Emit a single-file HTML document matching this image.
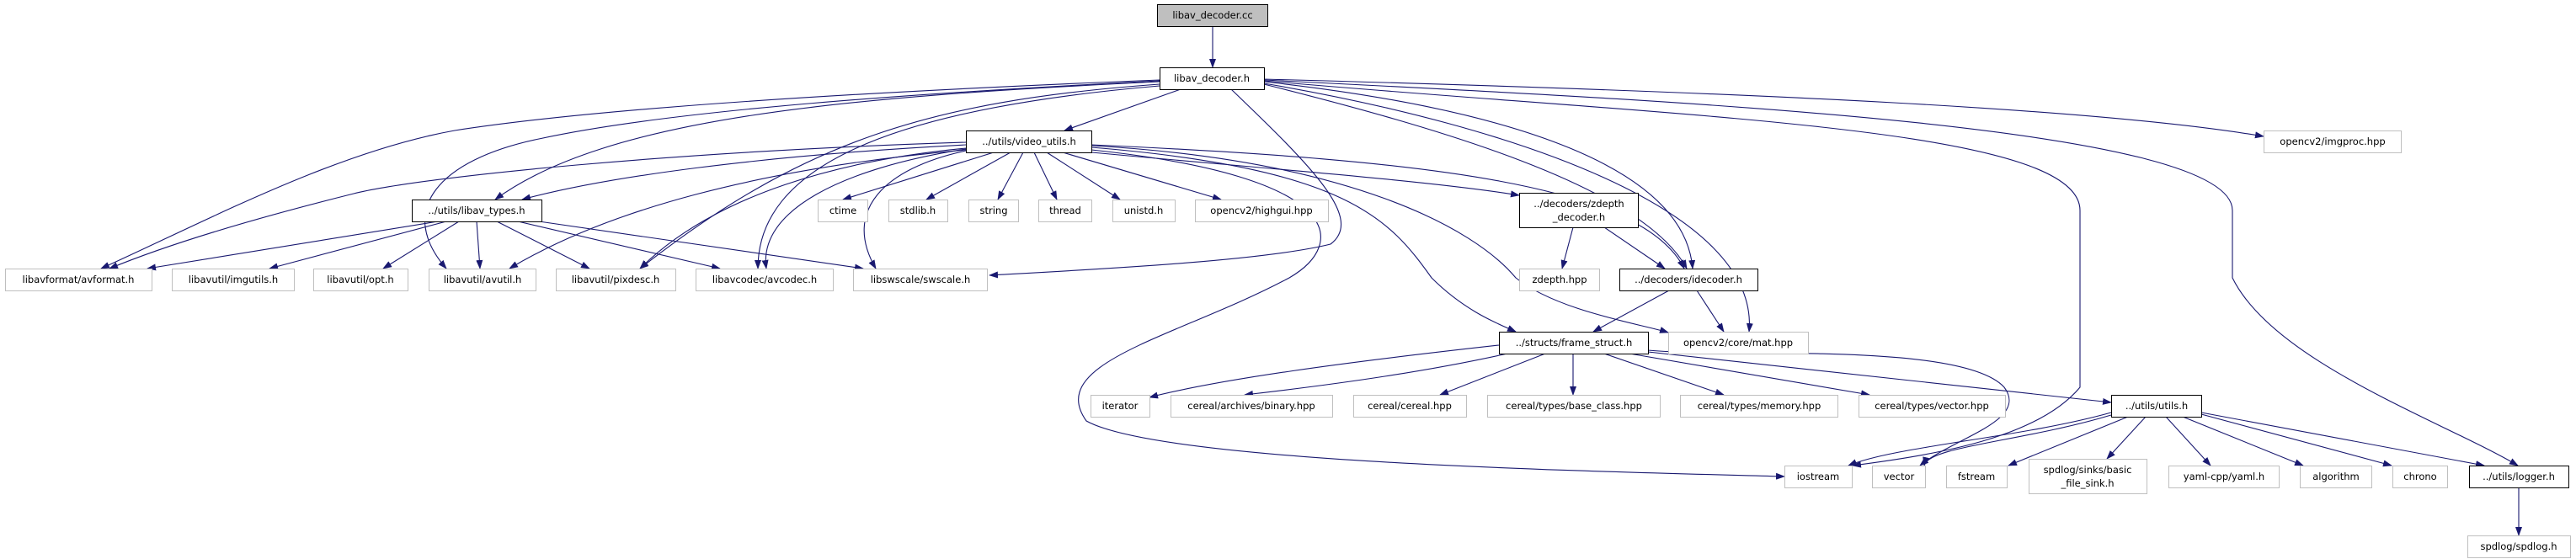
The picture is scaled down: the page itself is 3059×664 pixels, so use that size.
<!DOCTYPE html>
<html><head><meta charset="utf-8"><style>
html,body{margin:0;padding:0;background:#fff;}
svg{display:block;}
text{font-family:"DejaVu Sans","Liberation Sans",sans-serif;font-size:11.5px;fill:#000;text-anchor:middle;}
.e{fill:none;stroke:#191970;stroke-width:1.1;marker-end:url(#a);}
.g{fill:#fff;stroke:#bfbfbf;stroke-width:1;}
.k{fill:#fff;stroke:#000;stroke-width:1;}
</style></head><body>
<svg width="3059" height="664" viewBox="0 0 3059 664" xmlns="http://www.w3.org/2000/svg">
<defs><marker id="a" markerWidth="11" markerHeight="8" refX="10" refY="4" orient="auto" markerUnits="userSpaceOnUse"><polygon points="0,0 11,4 0,8" fill="#191970"/></marker></defs>
<!-- edges -->
<g>
<path class="e" d="M1440,31 L1440,80"/>
<!-- from libav_decoder.h -->
<path class="e" d="M1402,106 L1264,155"/>
<path class="e" d="M1377,97 C1000,115 720,140 588,237"/>
<path class="e" d="M1377,95 C1000,110 700,130 540,155 C400,180 250,260 120,319"/>
<path class="e" d="M1377,96 C1100,110 800,130 640,165 C520,190 470,250 530,319"/>
<path class="e" d="M1377,100 C1100,120 950,170 760,319"/>
<path class="e" d="M1377,102 C1050,130 900,200 900,319"/>
<path class="e" d="M1462,106 C1560,200 1620,260 1580,290 C1500,310 1300,320 1175,327"/>
<path class="e" d="M1501,100 C1700,150 1950,220 2003,319"/>
<path class="e" d="M1501,97 C1800,130 2000,200 2010,319"/>
<path class="e" d="M1501,99 C1800,150 2090,250 2077,394"/>
<path class="e" d="M1501,96 C2000,140 2470,150 2470,250 L2470,460 C2420,520 2300,540 2200,553"/>
<path class="e" d="M1501,95 C2000,120 2651,150 2651,250 L2651,330 C2700,430 2900,500 2990,553"/>
<path class="e" d="M1501,94 C2100,110 2500,130 2688,162"/>
<!-- from video_utils.h -->
<path class="e" d="M1180,181 L1001,237"/>
<path class="e" d="M1200,181 L1100,237"/>
<path class="e" d="M1215,181 L1185,237"/>
<path class="e" d="M1228,181 L1255,237"/>
<path class="e" d="M1243,181 L1330,237"/>
<path class="e" d="M1262,181 L1450,237"/>
<path class="e" d="M1147,172 C900,185 720,210 620,237"/>
<path class="e" d="M1147,169 C800,180 500,210 420,230 C300,260 200,290 130,319"/>
<path class="e" d="M1147,178 C900,200 720,250 605,319"/>
<path class="e" d="M1147,176 C1000,190 850,230 760,319"/>
<path class="e" d="M1147,177 C1000,200 900,250 910,319"/>
<path class="e" d="M1147,179 C1050,200 1000,250 1040,319"/>
<path class="e" d="M1296,181 C1500,200 1700,215 1804,232"/>
<path class="e" d="M1296,172 C1700,190 1950,220 2000,319"/>
<path class="e" d="M1296,175 C1600,200 1650,260 1700,330 C1740,370 1780,385 1800,394"/>
<path class="e" d="M1296,173 C1600,190 1750,270 1800,330 C1850,370 1950,385 1981,395"/>
<path class="e" d="M1296,178 C1600,210 1600,290 1531,330 C1400,400 1240,430 1290,500 C1380,550 1900,560 2119,566"/>
<!-- from libav_types.h -->
<path class="e" d="M520,263 L175,319"/>
<path class="e" d="M530,263 L320,319"/>
<path class="e" d="M545,263 L455,319"/>
<path class="e" d="M566,263 L570,319"/>
<path class="e" d="M590,263 L700,319"/>
<path class="e" d="M615,263 L855,319"/>
<path class="e" d="M640,263 L1025,319"/>
<!-- zdepth / idecoder -->
<path class="e" d="M1868,270 L1855,319"/>
<path class="e" d="M1905,270 L1977,319"/>
<path class="e" d="M1982,345 L1892,394"/>
<path class="e" d="M2015,345 L2047,394"/>
<!-- frame_struct -->
<path class="e" d="M1780,410 C1600,430 1450,450 1365,472"/>
<path class="e" d="M1790,420 C1700,440 1600,455 1478,469"/>
<path class="e" d="M1835,420 L1710,469"/>
<path class="e" d="M1868,420 L1868,469"/>
<path class="e" d="M1905,420 L2047,469"/>
<path class="e" d="M1935,420 L2220,469"/>
<path class="e" d="M1957,418 L2507,478"/>
<path class="e" d="M1957,416 C2050,425 2330,405 2380,460 C2410,500 2320,520 2280,553"/>
<!-- utils.h -->
<path class="e" d="M2507,490 C2400,520 2250,530 2195,553"/>
<path class="e" d="M2507,493 C2400,525 2290,530 2285,553"/>
<path class="e" d="M2527,495 L2385,553"/>
<path class="e" d="M2548,495 L2502,545"/>
<path class="e" d="M2572,495 L2625,553"/>
<path class="e" d="M2592,495 L2735,553"/>
<path class="e" d="M2614,492 L2840,553"/>
<path class="e" d="M2614,490 L2950,553"/>
<path class="e" d="M2991,579 L2991,636"/>
</g>
<!-- nodes -->
<rect x="1374.5" y="5.5" width="131" height="26" fill="#bfbfbf" stroke="#000"/><text x="1440" y="22">libav_decoder.cc</text>
<rect class="k" x="1377.5" y="80.5" width="124" height="26"/><text x="1439" y="97">libav_decoder.h</text>
<rect class="k" x="1147.5" y="155.5" width="149" height="26"/><text x="1222" y="172">../utils/video_utils.h</text>
<rect class="k" x="489.5" y="237.5" width="154" height="26"/><text x="566" y="254">../utils/libav_types.h</text>
<rect class="g" x="971.5" y="237.5" width="59" height="26"/><text x="1001" y="254">ctime</text>
<rect class="g" x="1055.5" y="237.5" width="70" height="26"/><text x="1090" y="254">stdlib.h</text>
<rect class="g" x="1150.5" y="237.5" width="59" height="26"/><text x="1180" y="254">string</text>
<rect class="g" x="1233.5" y="237.5" width="63" height="26"/><text x="1265" y="254">thread</text>
<rect class="g" x="1321.5" y="237.5" width="74" height="26"/><text x="1358" y="254">unistd.h</text>
<rect class="g" x="1419.5" y="237.5" width="158" height="26"/><text x="1498" y="254">opencv2/highgui.hpp</text>
<rect class="k" x="1804.5" y="229.5" width="141" height="41"/><text x="1875" y="246">../decoders/zdepth</text><text x="1875" y="262">_decoder.h</text>
<rect class="g" x="1804.5" y="319.5" width="95" height="26"/><text x="1852" y="336">zdepth.hpp</text>
<rect class="k" x="1923.5" y="319.5" width="164" height="26"/><text x="2005" y="336">../decoders/idecoder.h</text>
<rect class="g" x="6.5" y="319.5" width="174" height="26"/><text x="93" y="336">libavformat/avformat.h</text>
<rect class="g" x="204.5" y="319.5" width="145" height="26"/><text x="277" y="336">libavutil/imgutils.h</text>
<rect class="g" x="372.5" y="319.5" width="112" height="26"/><text x="428" y="336">libavutil/opt.h</text>
<rect class="g" x="509.5" y="319.5" width="127" height="26"/><text x="573" y="336">libavutil/avutil.h</text>
<rect class="g" x="660.5" y="319.5" width="142" height="26"/><text x="731" y="336">libavutil/pixdesc.h</text>
<rect class="g" x="826.5" y="319.5" width="163" height="26"/><text x="908" y="336">libavcodec/avcodec.h</text>
<rect class="g" x="1013.5" y="319.5" width="159" height="26"/><text x="1093" y="336">libswscale/swscale.h</text>
<rect class="k" x="1780.5" y="394.5" width="177" height="26"/><text x="1869" y="411">../structs/frame_struct.h</text>
<rect class="g" x="1981.5" y="394.5" width="166" height="26"/><text x="2064" y="411">opencv2/core/mat.hpp</text>
<rect class="g" x="2688.5" y="155.5" width="163" height="26"/><text x="2770" y="172">opencv2/imgproc.hpp</text>
<rect class="g" x="1295.5" y="469.5" width="70" height="26"/><text x="1330" y="486">iterator</text>
<rect class="g" x="1390.5" y="469.5" width="192" height="26"/><text x="1486" y="486">cereal/archives/binary.hpp</text>
<rect class="g" x="1607.5" y="469.5" width="134" height="26"/><text x="1674" y="486">cereal/cereal.hpp</text>
<rect class="g" x="1766.5" y="469.5" width="205" height="26"/><text x="1869" y="486">cereal/types/base_class.hpp</text>
<rect class="g" x="1995.5" y="469.5" width="187" height="26"/><text x="2089" y="486">cereal/types/memory.hpp</text>
<rect class="g" x="2207.5" y="469.5" width="174" height="26"/><text x="2294" y="486">cereal/types/vector.hpp</text>
<rect class="k" x="2507.5" y="469.5" width="107" height="26"/><text x="2561" y="486">../utils/utils.h</text>
<rect class="g" x="2119.5" y="553.5" width="80" height="26"/><text x="2159" y="570">iostream</text>
<rect class="g" x="2223.5" y="553.5" width="63" height="26"/><text x="2255" y="570">vector</text>
<rect class="g" x="2311.5" y="553.5" width="72" height="26"/><text x="2347" y="570">fstream</text>
<rect class="g" x="2409.5" y="545.5" width="140" height="41"/><text x="2479" y="562">spdlog/sinks/basic</text><text x="2479" y="578">_file_sink.h</text>
<rect class="g" x="2575.5" y="553.5" width="131" height="26"/><text x="2641" y="570">yaml-cpp/yaml.h</text>
<rect class="g" x="2731.5" y="553.5" width="85" height="26"/><text x="2774" y="570">algorithm</text>
<rect class="g" x="2841.5" y="553.5" width="65" height="26"/><text x="2874" y="570">chrono</text>
<rect class="k" x="2932.5" y="553.5" width="118" height="26"/><text x="2991" y="570">../utils/logger.h</text>
<rect class="g" x="2930.5" y="636.5" width="122" height="26"/><text x="2991" y="653">spdlog/spdlog.h</text>
</svg>
</body></html>
